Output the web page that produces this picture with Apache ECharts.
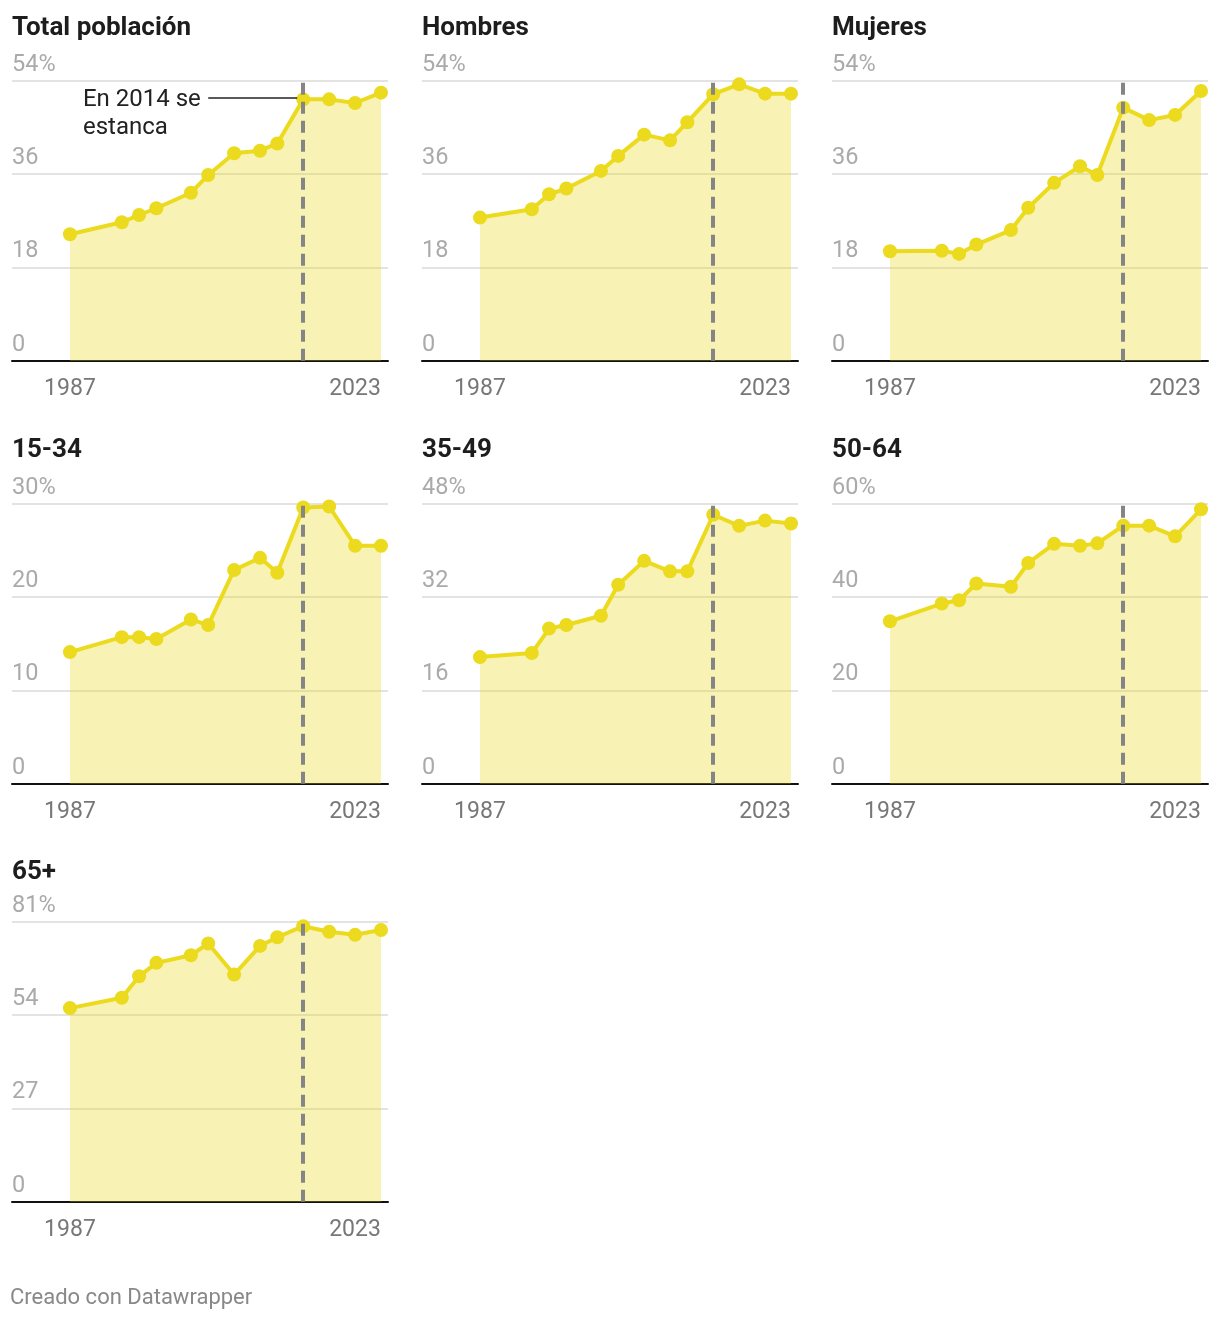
<!DOCTYPE html>
<html><head><meta charset="utf-8">
<script src="https://cdn.jsdelivr.net/npm/echarts@6/dist/echarts.min.js"></script>
<style>html,body{margin:0;padding:0;background:#fff}#c{width:1220px;height:1318px}</style>
</head><body><div id="c"></div>
<script>
// ---- data ----
const years = [1987, 1993, 1995, 1997, 2001, 2003, 2006, 2009, 2011, 2014, 2017, 2020, 2023];
const panelTitles = ['Total población', 'Hombres', 'Mujeres', '15-34', '35-49', '50-64', '65+'];
const yMaxes = [54, 54, 54, 30, 48, 60, 81];
const xTickLabels = [1987, 2023];
const breakYear = 2014;
const total   = [24.4, 26.7, 28.1, 29.4, 32.4, 35.8, 40.0, 40.5, 41.9, 50.4, 50.4, 49.7, 51.7];
const hombres = [27.6, 29.2, 32.1, 33.2, 36.6, 39.5, 43.6, 42.5, 46.0, 51.4, 53.3, 51.5, 51.5];
const mujeres = [21.1, 21.2, 20.6, 22.4, 25.2, 29.5, 34.3, 37.5, 35.8, 48.8, 46.4, 47.4, 52.0];
const g15_34  = [14.1, 15.7, 15.7, 15.5, 17.6, 17.0, 22.9, 24.2, 22.6, 29.6, 29.7, 25.5, 25.5];
const g35_49  = [21.7, 22.4, 26.6, 27.2, 28.8, 34.1, 38.2, 36.4, 36.4, 46.1, 44.2, 45.1, 44.6];
const g50_64  = [34.8, 38.6, 39.3, 42.9, 42.2, 47.3, 51.4, 51.0, 51.5, 55.3, 55.3, 53.0, 58.8];
const g65     = [56.0, 59.0, 65.2, 69.1, 71.3, 74.7, 65.7, 74.0, 76.5, 79.7, 78.1, 77.2, 78.6];
const seriesValues = [total, hombres, mujeres, g15_34, g35_49, g50_64, g65];
const annotationText = 'En 2014 se\nestanca';
const annotationY = 50.7;
const annotationTextX = 1988.5;
const annotationLineFrom = 2003;
const annotationLineTo = 2013.3;
const footerText = 'Creado con Datawrapper';

// ---- layout / style ----
const FONT = 'Roboto, "Noto Sans", sans-serif';
const YEL = '#ebda1d';
const colX = [0, 410, 820];
const rowGridTop = [80.7, 503.7, 921.7];
const rowTitleCenter = [25, 447, 869];
const gridH = 280;
const plotLeft = 12, plotW = 376;
const xMin = 1980.29, xMax = 2023.81;

const grids = [], xAxes = [], yAxes = [], series = [], titles = [];
panelTitles.forEach((t, i) => {
  const c = i % 3, r = Math.floor(i / 3);
  const yMax = yMaxes[i];
  grids.push({left: colX[c] + plotLeft, top: rowGridTop[r], width: plotW, height: gridH, containLabel: false});
  titles.push({
    text: t, left: colX[c] + 12, top: rowTitleCenter[r] - 10, padding: 0,
    textStyle: {fontFamily: FONT, fontSize: 26, fontWeight: 'bold', color: '#1d1d1d', lineHeight: 26}
  });
  xAxes.push({
    gridIndex: i, type: 'value', min: xMin, max: xMax,
    axisLine: {show: true, lineStyle: {color: '#111', width: 2}},
    axisTick: {show: false}, splitLine: {show: false},
    axisLabel: {
      customValues: xTickLabels, margin: 17, color: '#777', fontSize: 23, fontFamily: FONT,
      formatter: v => (v === xTickLabels[xTickLabels.length - 1] ? '{r|' + v + '}' : '{c|' + v + '}'),
      rich: {
        c: {fontSize: 23, fontFamily: FONT, color: '#777'},
        r: {fontSize: 23, fontFamily: FONT, color: '#777', padding: [0, 52, 0, 0]}
      }
    }
  });
  yAxes.push({
    gridIndex: i, type: 'value', min: 0, max: yMax, interval: yMax / 3,
    axisLine: {show: false}, axisTick: {show: false},
    splitLine: {show: true, showMinLine: false, lineStyle: {color: '#e3e3e3', width: 2}},
    axisLabel: {
      inside: true, margin: 0, align: 'left', verticalAlign: 'bottom', padding: [0, 0, 4, 0],
      color: '#aaa', fontSize: 23.5, fontFamily: FONT,
      formatter: v => (v === yMax ? v + '%' : '' + v)
    }
  });
  const mlData = [{xAxis: breakYear}];
  const s = {
    type: 'line', xAxisIndex: i, yAxisIndex: i,
    data: years.map((y, k) => [y, seriesValues[i][k]]),
    symbol: 'circle', symbolSize: 14, showAllSymbol: true,
    lineStyle: {color: YEL, width: 4}, itemStyle: {color: YEL},
    areaStyle: {color: YEL, opacity: 0.33},
    emphasis: {disabled: true},
    markLine: {
      silent: true, symbol: ['none', 'none'], label: {show: false},
      emphasis: {disabled: true},
      lineStyle: {color: '#858585', type: [12, 7], width: 4, opacity: 1},
      data: mlData
    }
  };
  if (i === 0) {
    mlData.push([
      {coord: [annotationLineFrom, annotationY], lineStyle: {color: '#222', type: 'solid', width: 1.5}},
      {coord: [annotationLineTo, annotationY]}
    ]);
    s.markPoint = {
      silent: true, symbol: 'circle', symbolSize: 0,
      data: [{coord: [annotationTextX, annotationY]}],
      label: {
        show: true, formatter: annotationText, position: 'inside', align: 'left', verticalAlign: 'top',
        offset: [0, -12], lineHeight: 28, fontSize: 24, fontFamily: FONT, color: '#222'
      }
    };
  }
  series.push(s);
});
titles.push({
  text: footerText, left: 10, top: 1286, padding: 0,
  textStyle: {fontFamily: FONT, fontSize: 22, fontWeight: 'normal', color: '#888', lineHeight: 24}
});

const chart = echarts.init(document.getElementById('c'), null, {renderer: 'canvas'});
chart.setOption({
  animation: false, backgroundColor: '#fff',
  title: titles, grid: grids, xAxis: xAxes, yAxis: yAxes, series: series
});
</script></body></html>
